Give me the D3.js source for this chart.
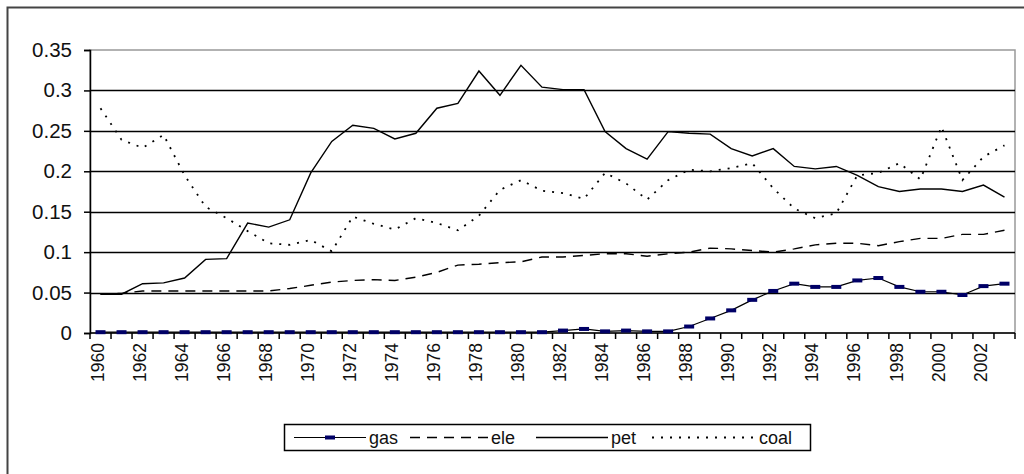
<!DOCTYPE html>
<html>
<head>
<meta charset="utf-8">
<script src="https://cdn.jsdelivr.net/npm/d3@7"></script>
<style>
  body { margin: 0; background: #fff; }
  svg { display: block; font-family: "Liberation Sans", Arial, sans-serif; }
</style>
</head>
<body>
<div id="chart"></div>
<script>
const width = 1024;
const height = 474;

const years = d3.range(1960, 2004);
const yTicks = [0, 0.05, 0.1, 0.15, 0.2, 0.25, 0.3, 0.35];
const yTickLabels = ["0", "0.05", "0.1", "0.15", "0.2", "0.25", "0.3", "0.35"];

const gas = [0.001, 0.001, 0.001, 0.001, 0.001, 0.001, 0.001, 0.001, 0.001, 0.001,
  0.001, 0.001, 0.001, 0.001, 0.001, 0.001, 0.001, 0.001, 0.001, 0.001,
  0.001, 0.001, 0.003, 0.005, 0.002, 0.003, 0.002, 0.002, 0.008, 0.018,
  0.028, 0.041, 0.052, 0.061, 0.057, 0.057, 0.065, 0.068, 0.057, 0.051,
  0.051, 0.047, 0.058, 0.061];
const ele = [0.048, 0.049, 0.052, 0.052, 0.052, 0.052, 0.052, 0.052, 0.052, 0.055,
  0.059, 0.063, 0.065, 0.066, 0.065, 0.069, 0.075, 0.084, 0.085, 0.087,
  0.088, 0.094, 0.094, 0.096, 0.098, 0.098, 0.095, 0.098, 0.100, 0.105,
  0.104, 0.102, 0.100, 0.104, 0.109, 0.111, 0.111, 0.108, 0.113, 0.117,
  0.117, 0.122, 0.122, 0.127];
const pet = [0.048, 0.048, 0.061, 0.062, 0.068, 0.091, 0.092, 0.136, 0.131, 0.140,
  0.198, 0.237, 0.257, 0.253, 0.240, 0.247, 0.278, 0.284, 0.324, 0.294,
  0.331, 0.304, 0.301, 0.301, 0.249, 0.228, 0.215, 0.249, 0.247, 0.246,
  0.228, 0.219, 0.228, 0.206, 0.203, 0.206, 0.195, 0.181, 0.175, 0.178,
  0.178, 0.175, 0.183, 0.168];
const coal = [0.278, 0.239, 0.229, 0.245, 0.195, 0.156, 0.142, 0.126, 0.111, 0.109,
  0.115, 0.101, 0.144, 0.135, 0.128, 0.142, 0.136, 0.127, 0.145, 0.177,
  0.189, 0.176, 0.173, 0.166, 0.198, 0.185, 0.165, 0.189, 0.202, 0.200,
  0.204, 0.210, 0.179, 0.154, 0.142, 0.148, 0.195, 0.198, 0.210, 0.190,
  0.255, 0.189, 0.218, 0.232];

const seriesNames = ["gas", "ele", "pet", "coal"];
const seriesValues = [gas, ele, pet, coal];

const margin = { left: 90, right: 9, top: 50, bottom: 141 };

const x = d3.scaleBand()
  .domain(years)
  .range([margin.left, width - margin.right])
  .padding(0);

const y = d3.scaleLinear()
  .domain([0, 0.35])
  .range([height - margin.bottom, margin.top]);

const cx = d => x(d) + x.bandwidth() / 2;

// line look per series
const styles = {
  gas: { stroke: "#000", dash: null, width: 1.2 },
  ele: { stroke: "#000", dash: "10,7", width: 1.4 },
  pet: { stroke: "#000", dash: null, width: 1.4 },
  coal: { stroke: "#000", dash: "2,7", width: 1.8 }
};

const svg = d3.select("#chart").append("svg")
  .attr("width", width)
  .attr("height", height);

// chart area border
svg.append("rect")
  .attr("x", 7.5).attr("y", 7.5)
  .attr("width", width + 20).attr("height", height + 20)
  .attr("fill", "#fff")
  .attr("stroke", "#444")
  .attr("stroke-width", 2);

// plot area border
svg.append("rect")
  .attr("x", margin.left).attr("y", y(0.35))
  .attr("width", width - margin.right - margin.left)
  .attr("height", y(0) - y(0.35))
  .attr("fill", "none")
  .attr("stroke", "#999")
  .attr("stroke-width", 1.5);

// gridlines
svg.append("g")
  .selectAll("line")
  .data(yTicks.filter(t => t > 0 && t < 0.35))
  .join("line")
  .attr("x1", margin.left).attr("x2", width - margin.right)
  .attr("y1", d => Math.round(y(d)) + 0.5).attr("y2", d => Math.round(y(d)) + 0.5)
  .attr("stroke", "#000")
  .attr("stroke-width", 1.5);

// y axis
const yAxis = svg.append("g")
  .attr("transform", `translate(${margin.left},0)`)
  .call(d3.axisLeft(y)
    .tickValues(yTicks)
    .tickFormat((d, i) => yTickLabels[i])
    .tickSize(6)
    .tickPadding(12));
yAxis.select(".domain").attr("stroke", "#000").attr("stroke-width", 1.5);
yAxis.selectAll(".tick line").attr("stroke", "#000").attr("stroke-width", 1.5);
yAxis.selectAll(".tick text")
  .attr("font-size", 20.5)
  .attr("font-family", "Liberation Sans, Arial, sans-serif")
  .attr("fill", "#111");

// x axis: ticks between categories, labels every 2 years
const xg = svg.append("g");
xg.append("line")
  .attr("x1", margin.left).attr("x2", width - margin.right)
  .attr("y1", y(0)).attr("y2", y(0))
  .attr("stroke", "#000").attr("stroke-width", 1.5);
xg.selectAll(".xt")
  .data(years.concat([null]))
  .join("line")
  .attr("class", "xt")
  .attr("x1", d => d === null ? width - margin.right : x(d))
  .attr("x2", d => d === null ? width - margin.right : x(d))
  .attr("y1", y(0)).attr("y2", y(0) + 6)
  .attr("stroke", "#000").attr("stroke-width", 1.5);
xg.selectAll("text")
  .data(years.filter(d => d % 2 === 0))
  .join("text")
  .attr("transform", d => `translate(${cx(d) - 3},${y(0) + 10}) rotate(-90)`)
  .attr("text-anchor", "end")
  .attr("dy", "0.35em")
  .attr("font-size", 17.5)
  .attr("fill", "#111")
  .text(d => d);

// series
const line = d3.line()
  .x((d, i) => cx(years[i]))
  .y(d => y(d));

seriesNames.forEach((name, k) => {
  const s = styles[name];
  svg.append("path")
    .datum(seriesValues[k])
    .attr("fill", "none")
    .attr("stroke", s.stroke)
    .attr("stroke-width", s.width)
    .attr("stroke-dasharray", s.dash)
    .attr("d", line);
});

// gas markers
svg.append("g")
  .selectAll("rect")
  .data(gas)
  .join("rect")
  .attr("x", (d, i) => cx(years[i]) - 5)
  .attr("y", d => y(d) - 2)
  .attr("width", 10)
  .attr("height", 4)
  .attr("fill", "#000066");

// legend
const legend = svg.append("g");
legend.append("rect")
  .attr("x", 284.5).attr("y", 424.5)
  .attr("width", 526).attr("height", 26)
  .attr("fill", "#fff")
  .attr("stroke", "#000")
  .attr("stroke-width", 1.5);

const legendX = [294, 410, 536, 652];
const legendLen = [72, 78, 72, 104];

seriesNames.forEach((name, k) => {
  const s = styles[name];
  const lx = legendX[k];
  const ly = 437.5;
  legend.append("line")
    .attr("x1", lx).attr("x2", lx + legendLen[k])
    .attr("y1", ly).attr("y2", ly)
    .attr("stroke", s.stroke)
    .attr("stroke-width", s.width)
    .attr("stroke-dasharray", s.dash);
  if (name === "gas") {
    legend.append("rect")
      .attr("x", lx + legendLen[k] / 2 - 5).attr("y", ly - 2)
      .attr("width", 10).attr("height", 4)
      .attr("fill", "#000066");
  }
  legend.append("text")
    .attr("x", lx + legendLen[k] + 3)
    .attr("y", ly)
    .attr("dy", "0.35em")
    .attr("font-size", 18)
    .attr("fill", "#111")
    .text(name);
});
</script>
</body>
</html>
